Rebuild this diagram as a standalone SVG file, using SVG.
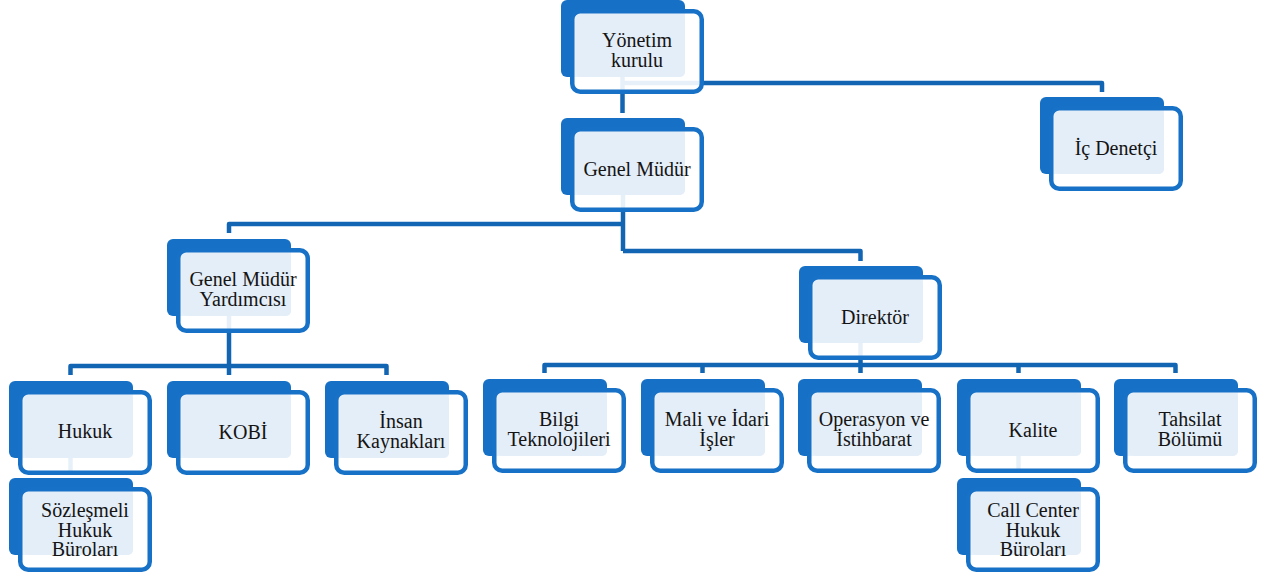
<svg xmlns="http://www.w3.org/2000/svg" width="1266" height="579" viewBox="0 0 1266 579">
<style>
.bg{fill:#ffffff}
.conn{fill:none;stroke:#1265B2;stroke-width:4.5;stroke-linejoin:round;stroke-linecap:butt}
.back{fill:#1570C6}
.front{fill:#ffffff;fill-opacity:0.9;stroke:#1771C6;stroke-width:4.5}
.inner{fill:#E4EEF8}
.t{font-family:"Liberation Serif","Times New Roman",serif;font-size:20px;fill:#141414;text-anchor:middle}
</style>
<defs>
<g id="shape">
<rect class="back" x="0" y="0" width="124" height="77" rx="6"/>
<rect class="front" x="11.25" y="11.25" width="129.5" height="80.5" rx="8"/>
<rect class="inner" x="15" y="14" width="109" height="63" rx="5"/>
</g>
</defs>
<rect class="bg" x="0" y="0" width="1266" height="579"/>
<g id="connectors">
<path class="conn" d="M622.5,60 V113"/>
<path class="conn" d="M622.5,83 H1102 V92"/>
<path class="conn" d="M623,180 V251"/>
<path class="conn" d="M623,224 H229 V233"/>
<path class="conn" d="M623,251 H860.5 V261"/>
<path class="conn" d="M229,300 V366"/>
<path class="conn" d="M70.5,375 V366 H386.5 V375"/>
<path class="conn" d="M229,366 V375"/>
<path class="conn" d="M860.5,330 V365"/>
<path class="conn" d="M544.5,373 V365 H1175.5 V373"/>
<path class="conn" d="M702.5,365 V373"/>
<path class="conn" d="M860.5,365 V373"/>
<path class="conn" d="M1018.5,365 V373"/>
<path class="conn" d="M70.5,450 V471"/>
<path class="conn" d="M1018.5,450 V471"/>
</g>
<g id="node-yonetim" transform="translate(561,0)">
<use href="#shape"/>
<text class="t" x="76" y="47">Yönetim</text>
<text class="t" x="76" y="67">kurulu</text>
</g>
<g id="node-genel-mudur" transform="translate(561,118)">
<use href="#shape"/>
<text class="t" x="76" y="58">Genel Müdür</text>
</g>
<g id="node-ic-denetci" transform="translate(1040,97)">
<use href="#shape"/>
<text class="t" x="76" y="58">İç Denetçi</text>
</g>
<g id="node-gmy" transform="translate(167,239)">
<use href="#shape"/>
<text class="t" x="76" y="47">Genel Müdür</text>
<text class="t" x="76" y="67">Yardımcısı</text>
</g>
<g id="node-direktor" transform="translate(799,266)">
<use href="#shape"/>
<text class="t" x="76" y="58">Direktör</text>
</g>
<g id="node-hukuk" transform="translate(9,381)">
<use href="#shape"/>
<text class="t" x="76" y="57">Hukuk</text>
</g>
<g id="node-kobi" transform="translate(167,381)">
<use href="#shape"/>
<text class="t" x="76" y="58">KOBİ</text>
</g>
<g id="node-insan" transform="translate(325,381)">
<use href="#shape"/>
<text class="t" x="76" y="47">İnsan</text>
<text class="t" x="76" y="67">Kaynakları</text>
</g>
<g id="node-bilgi" transform="translate(483,379)">
<use href="#shape"/>
<text class="t" x="76" y="47">Bilgi</text>
<text class="t" x="76" y="67">Teknolojileri</text>
</g>
<g id="node-mali" transform="translate(641,379)">
<use href="#shape"/>
<text class="t" x="76" y="47">Mali ve İdari</text>
<text class="t" x="76" y="67">İşler</text>
</g>
<g id="node-operasyon" transform="translate(798,379)">
<use href="#shape"/>
<text class="t" x="76" y="47">Operasyon ve</text>
<text class="t" x="76" y="67">İstihbarat</text>
</g>
<g id="node-kalite" transform="translate(957,379)">
<use href="#shape"/>
<text class="t" x="76" y="58">Kalite</text>
</g>
<g id="node-tahsilat" transform="translate(1114,379)">
<use href="#shape"/>
<text class="t" x="76" y="47">Tahsilat</text>
<text class="t" x="76" y="67">Bölümü</text>
</g>
<g id="node-sozlesmeli" transform="translate(9,478)">
<use href="#shape"/>
<text class="t" x="76" y="39">Sözleşmeli</text>
<text class="t" x="76" y="58.5">Hukuk</text>
<text class="t" x="76" y="78">Büroları</text>
</g>
<g id="node-callcenter" transform="translate(957,478)">
<use href="#shape"/>
<text class="t" x="76" y="39">Call Center</text>
<text class="t" x="76" y="58.5">Hukuk</text>
<text class="t" x="76" y="78">Büroları</text>
</g>
</svg>
